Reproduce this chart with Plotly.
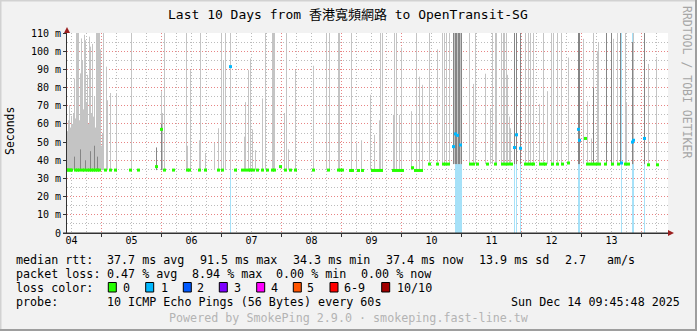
import plotly.graph_objects as go

# ---------------- data ----------------
# time axis: hours since 2025-12-04 00:00 (one RRA step = 0.4 h = 24 min)
day_labels = ["04", "05", "06", "07", "08", "09", "10", "11", "12", "13"]
day_noon_hours = [12, 36, 60, 84, 108, 132, 156, 180, 204, 228]
midnight_hours = [24, 48, 72, 96, 120, 144, 168, 192, 216, 240]
six_hour_marks = [12, 18, 30, 36, 42, 54, 60, 66, 78, 84, 90, 102, 108, 114,
                  126, 132, 138, 150, 156, 162, 174, 180, 186, 198, 204, 210,
                  222, 228, 234, 246]
x_range_hours = [10.2, 250.6]

y_tick_values = [0, 10, 20, 30, 40, 50, 60, 70, 80, 90, 100, 110]
y_tick_labels = ["0", "10 m", "20 m", "30 m", "40 m", "50 m", "60 m", "70 m",
                 "80 m", "90 m", "100 m", "110 m"]
y_minor_values = [5, 15, 25, 35, 45, 55, 65, 75, 85, 95, 105]

# median level (ms) before / after the shift on day 10
median_level_early = 34.6
median_level_late = 37.9
median_shift_hour = 154.0

# smoke spikes: time (h), max rtt (ms), top of darker core (0 = none)
smoke_hours = [10.4, 10.8, 11.2, 11.6, 12.0, 12.4, 12.8, 13.2, 13.6, 14.0, 14.4, 14.8,
               15.2, 15.6, 16.0, 16.4, 16.8, 17.2, 17.6, 18.0, 18.4, 18.8, 19.2, 19.6,
               20.0, 20.4, 20.8, 21.2, 21.6, 22.0, 22.4, 22.8, 23.2, 23.6, 24.0, 24.4,
               24.8, 26.0, 26.4, 27.6,
               30.0, 36.0, 46.0, 48.0, 48.4, 49.2, 58.0, 58.4, 59.6, 63.2, 63.6, 65.6,
               69.2, 70.8, 72.0, 72.8, 73.6, 75.6, 81.2, 81.6, 82.8, 83.6, 84.4, 85.6,
               88.4, 89.6, 92.4, 92.8, 93.2, 97.2, 98.0, 98.8, 101.6, 108.8, 114.0, 115.2,
               118.8, 119.2, 124.0, 126.0, 128.0, 131.6, 133.2, 135.2, 135.6, 136.4, 140.8, 141.2,
               142.0, 143.2, 144.0, 148.0, 150.0, 151.2, 152.4, 155.2, 158.4, 160.4, 161.2, 162.0,
               163.2, 164.8, 165.2, 165.6, 166.0, 166.4, 166.8, 167.2, 167.6, 168.0, 171.2, 172.8,
               173.6, 177.6, 179.6, 180.4, 181.6, 182.0, 184.0, 184.8, 185.2, 186.0, 186.4, 187.2,
               187.6, 189.2, 190.0, 191.6, 193.6, 194.8, 195.6, 196.8, 199.2, 200.8, 202.4, 204.0,
               204.8, 206.4, 208.0, 210.8, 214.8, 215.2, 216.8, 218.4, 220.0, 220.8, 222.4, 222.8,
               226.0, 228.0, 228.8, 230.4, 231.6, 233.6, 234.0, 236.4, 236.8, 241.2, 242.8, 246.0]
smoke_max = [56, 62, 70.4, 58, 64.4, 60, 66, 85, 63, 110, 110, 110,
             62, 87.8, 107, 95, 68, 109, 106, 72, 87, 60, 108, 102.5,
             66, 104, 64, 75, 58, 110, 110, 110, 110, 101, 48, 55,
             110, 91.5, 73, 77,
             77, 110, 47, 78, 66, 110, 110, 48, 89.6, 51, 110, 44,
             49.6, 57.6, 110, 95, 110, 110, 53, 72, 89.6, 96, 57, 45.6,
             74, 110, 110, 110, 110, 66, 110, 46, 89.6, 92, 110, 110,
             110, 110, 110, 49.6, 51, 76, 54, 62, 110, 110, 65, 110,
             110, 65, 102, 67, 110, 86, 81.5, 110, 101, 110, 110, 110,
             110, 110, 110, 110, 110, 110, 110, 110, 110, 110, 110, 82,
             110, 87.6, 68.5, 110, 110, 110, 110, 110, 110, 110, 87, 64,
             57.6, 110, 110, 110, 110, 110, 110, 110, 71, 110, 78, 110,
             110, 110, 110, 96.5, 110, 110, 106.8, 72.4, 52, 110, 100, 104.7,
             110, 110, 106.8, 110, 110, 110, 72, 105, 110, 110, 93, 96]
smoke_core = [0, 0, 0, 0, 0, 0, 0, 42, 0, 0, 0, 0,
              0, 46, 0, 0, 0, 0, 40, 0, 0, 0, 0, 45,
              0, 0, 0, 48, 0, 0, 42, 0, 0, 0, 0, 0,
              0, 0, 0, 0,
              0, 0, 47, 60, 0, 0, 0, 0, 0, 0, 0, 0,
              0, 0, 0, 0, 0, 0, 0, 0, 0, 0, 0, 0,
              0, 0, 0, 0, 0, 0, 0, 0, 0, 0, 0, 0,
              0, 0, 0, 0, 0, 0, 0, 0, 0, 0, 0, 0,
              0, 0, 0, 0, 0, 0, 0, 0, 0, 0, 0, 0,
              0, 110, 0, 110, 110, 0, 110, 110, 0, 110, 0, 0,
              0, 0, 0, 0, 0, 0, 0, 0, 0, 0, 0, 0,
              0, 110, 110, 110, 0, 0, 0, 0, 0, 0, 0, 0,
              0, 0, 0, 0, 110, 110, 0, 0, 0, 80, 0, 0,
              110, 110, 0, 0, 110, 0, 0, 105, 0, 110, 0, 0]

# median rtt marks: time (h), value (ms), loss colour index (0 = none, 1 = 1/10 lost)
median_hours = [10.4, 10.8, 11.6, 12.0, 13.6, 14.4, 15.2, 16.4, 17.2, 18.4, 19.2, 20.0,
                20.8, 21.6, 22.4, 23.2, 25.6, 27.6, 29.6, 35.6, 38.8, 46.0, 48.0, 49.2,
                52.8, 58.4, 59.2, 63.2, 65.6, 70.8, 72.4, 75.6, 77.6, 80.4, 81.6, 82.8,
                83.6, 84.8, 86.4, 88.4, 90.4, 92.4, 93.2, 95.6, 97.6, 99.6, 101.6, 108.8,
                114.8, 118.8, 119.6, 120.4, 123.6, 124.4, 126.8, 128.4, 132.4, 133.6, 134.8, 136.0,
                140.8, 142.0, 143.2, 144.4, 148.4, 149.6, 150.8, 152.0, 155.2, 158.4, 160.8, 161.6,
                162.8, 164.8, 165.6, 166.4, 167.6, 171.6, 172.8, 174.4, 178.4, 181.6, 184.4, 185.6,
                186.8, 188.0, 189.2, 190.0, 191.6, 193.6, 194.8, 196.0, 196.8, 199.6, 200.8, 201.6,
                204.4, 206.4, 208.4, 210.8, 214.8, 215.2, 217.6, 218.4, 219.6, 220.8, 222.0, 223.2,
                225.6, 228.4, 230.8, 232.0, 233.6, 234.8, 236.4, 236.8, 241.2, 242.8, 246.4]
median_values = [34.6, 34.6, 34.6, 34.6, 34.6, 34.6, 34.6, 34.6, 34.6, 34.6, 34.6, 34.6,
                 34.6, 34.6, 34.6, 34.6, 34.6, 34.6, 34.6, 34.6, 34.6, 36.5, 57.0, 34.6,
                 34.6, 34.6, 34.6, 34.6, 34.6, 34.6, 34.6, 91.5, 34.6, 34.6, 34.6, 34.6,
                 34.6, 34.6, 34.6, 34.6, 34.6, 34.6, 34.6, 36.5, 34.6, 34.6, 34.6, 34.6,
                 34.6, 34.6, 34.6, 34.6, 34.4, 34.4, 34.4, 34.4, 34.4, 34.4, 34.4, 34.4,
                 34.4, 34.4, 34.4, 34.4, 35.9, 34.4, 34.4, 34.4, 37.9, 37.9, 37.9, 37.9,
                 37.9, 47.5, 54.5, 53.7, 48.4, 37.9, 37.9, 37.9, 37.9, 37.9, 37.9, 37.9,
                 37.9, 37.9, 47.0, 54.0, 46.6, 37.9, 37.9, 37.9, 37.9, 37.9, 37.9, 37.9,
                 37.9, 37.9, 37.9, 38.5, 57.0, 51.0, 52.0, 37.9, 37.9, 37.9, 37.9, 37.9,
                 37.9, 37.9, 37.9, 38.5, 37.9, 37.9, 50.0, 51.0, 52.0, 37.5, 37.5]
median_loss = [0] * 31 + [1] + [0] * 41 + [1, 1, 1, 1] + [0] * 9 + [1, 1, 1] + [0] * 11 + \
              [1, 1] + [0] * 9 + [1] + [0, 0] + [1, 1, 1] + [0, 0]

# time steps with packet loss (loss background)
loss_hours = [75.6, 165.6, 166.0, 166.4, 166.8, 167.2, 167.6, 168.0, 189.2, 190.0,
              191.6, 214.8, 215.2, 232.0, 236.4, 236.8, 241.2]

loss_color_labels = ["0", "1", "2", "3", "4", "5", "6-9", "10/10"]
loss_colors = ["#26ff00", "#00b8ff", "#0059ff", "#7e00ff", "#ff00ff",
               "#ff5500", "#ff0000", "#a10000"]

title_text = "Last 10 Days from 香港寬頻網路 to OpenTransit-SG"
stats_rtt = ["median rtt:", "37.7 ms avg", "91.5 ms max", "34.3 ms min",
             "37.4 ms now", "13.9 ms sd", "2.7", "am/s"]
stats_loss = ["packet loss:", "0.47 % avg", "8.94 % max", "0.00 % min", "0.00 % now"]
probe_text = ["probe:", "10 ICMP Echo Pings (56 Bytes) every 60s"]
date_text = "Sun Dec 14 09:45:48 2025"
footer_text = "Powered by SmokePing 2.9.0 · smokeping.fast-line.tw"
watermark = "RRDTOOL / TOBI OETIKER"

# ---------------- layout geometry (pixels) ----------------
FIG_W, FIG_H = 697, 331
L, R, T, B = 67, 668, 33, 233
MONO = "DejaVu Sans Mono, Noto Sans CJK TC, monospace"


def ax(xp):
    return (xp - L) / (R - L)


def ay(yp):
    return (B - yp) / (B - T)


def vsegments(xs, lows, highs):
    px, py = [], []
    for x, lo, hi in zip(xs, lows, highs):
        px += [x, x, None]
        py += [lo, hi, None]
    return px, py


fig = go.Figure()

# loss background (full-height light bars)
lx, ly = vsegments(loss_hours, [0] * len(loss_hours), [110] * len(loss_hours))
fig.add_trace(go.Scatter(x=lx, y=ly, mode="lines", line=dict(color="#a6e1f8", width=1),
                         hoverinfo="skip", showlegend=False))

base_vals = [median_level_early if h < median_shift_hour else median_level_late
             for h in smoke_hours]
# light smoke
sx, sy = vsegments(smoke_hours, base_vals, smoke_max)
fig.add_trace(go.Scatter(x=sx, y=sy, mode="lines", line=dict(color="#c4c4c4", width=1),
                         hoverinfo="skip", showlegend=False))
# darker smoke core
core_h = [h for h, c in zip(smoke_hours, smoke_core) if c > 0]
core_b = [b for b, c in zip(base_vals, smoke_core) if c > 0]
core_t = [c for c in smoke_core if c > 0]
cx, cy = vsegments(core_h, core_b, core_t)
fig.add_trace(go.Scatter(x=cx, y=cy, mode="lines", line=dict(color="#858585", width=1),
                         hoverinfo="skip", showlegend=False))

# medians
fig.add_trace(go.Scatter(x=median_hours, y=median_values, mode="markers",
                         marker=dict(symbol="square", size=3,
                                     color=[loss_colors[i] for i in median_loss],
                                     line=dict(width=0)),
                         hoverinfo="skip", showlegend=False, xaxis="x2"))

grid_red = "rgba(222,80,80,0.7)"
grid_grey = "rgba(143,143,143,0.6)"

fig.update_layout(
    width=FIG_W, height=FIG_H, autosize=False,
    margin=dict(l=L, r=FIG_W - R, t=T, b=FIG_H - B, pad=0),
    paper_bgcolor="#f2f2f2", plot_bgcolor="#ffffff",
    showlegend=False,
    font=dict(family=MONO, size=10, color="#000000"),
    xaxis=dict(range=x_range_hours, tickmode="array", tickvals=midnight_hours,
               ticktext=[""] * len(midnight_hours), showgrid=True,
               gridcolor=grid_red, griddash="1px,2px", gridwidth=1,
               ticks="outside", ticklen=3, tickcolor="#333333",
               showline=True, linecolor="#333333", linewidth=1,
               zeroline=False, layer="above traces", fixedrange=True,
               minor=dict(tickmode="array", tickvals=six_hour_marks, showgrid=True,
                          gridcolor=grid_grey, griddash="1px,2px", gridwidth=1,
                          ticks="")),
    xaxis2=dict(range=x_range_hours, overlaying="x", side="bottom", anchor="y",
                tickmode="array", tickvals=day_noon_hours, ticktext=day_labels,
                showgrid=False, ticks="", zeroline=False, showline=False,
                tickfont=dict(family=MONO, size=10, color="#000000"),
                fixedrange=True),
    yaxis=dict(range=[0, 110], tickmode="array", tickvals=y_tick_values,
               ticktext=y_tick_labels, showgrid=True, gridcolor=grid_red,
               griddash="1px,2px", gridwidth=1, ticks="outside", ticklen=3,
               tickcolor="#333333", showline=True, linecolor="#333333", linewidth=1,
               zeroline=False, layer="above traces", fixedrange=True,
               tickfont=dict(family=MONO, size=10, color="#000000"),
               minor=dict(tickmode="array", tickvals=y_minor_values, showgrid=True,
                          gridcolor=grid_grey, griddash="1px,2px", gridwidth=1,
                          ticks="")),
)

ann = []


def text(xp, yp, s, size=11.7, color="#000000", anchor="left", angle=0):
    ann.append(dict(x=ax(xp), y=ay(yp), xref="paper", yref="paper", text=s,
                    showarrow=False, xanchor=anchor, yanchor="middle",
                    textangle=angle, borderpad=0,
                    font=dict(family=MONO, size=size, color=color)))


text(348, 14, title_text, size=13, anchor="center")
text(10, 131, "Seconds", size=11.5, anchor="center", angle=-90)
text(687, 82, watermark, size=11.5, color="#a6a6a6", anchor="center", angle=90)

rtt_x = [15, 106, 199, 292, 385, 478, 564, 606]
for xp, s in zip(rtt_x, stats_rtt):
    text(xp, 259.5, s)
loss_x = [15, 106, 190.5, 275, 359.5]
for xp, s in zip(loss_x, stats_loss):
    text(xp, 273.5, s)
text(15, 287.5, "loss color:")
box_x = [108.3, 145.7, 183.3, 219.3, 256.7, 293.3, 330.0, 381.7]
lab_x = [122.3, 159.7, 196.0, 233.0, 270.0, 306.0, 343.0, 395.7]
shapes = []
for bx, lbx, lab, col in zip(box_x, lab_x, loss_color_labels, loss_colors):
    shapes.append(dict(type="rect", xref="paper", yref="paper",
                       x0=ax(bx), x1=ax(bx + 8), y0=ay(292), y1=ay(282.5),
                       fillcolor=col, line=dict(color="#000000", width=1)))
    text(lbx, 287.5, lab)
text(15, 301.7, probe_text[0])
text(106, 301.7, probe_text[1])
text(681, 301.7, date_text, anchor="right")
text(348.5, 318.3, footer_text, color="#b4b4b4", anchor="center")

# axis arrows
shapes.append(dict(type="path", xref="paper", yref="paper",
                   path=f"M {ax(668)} {ay(230)} L {ax(674)} {ay(233)} L {ax(668)} {ay(236)} Z",
                   fillcolor="#9b2020", line=dict(width=0)))
shapes.append(dict(type="path", xref="paper", yref="paper",
                   path=f"M {ax(64)} {ay(33)} L {ax(67)} {ay(27)} L {ax(70)} {ay(33)} Z",
                   fillcolor="#9b2020", line=dict(width=0)))
# axis extension to the left of the origin
shapes.append(dict(type="line", xref="paper", yref="paper", x0=ax(63), x1=ax(668),
                   y0=ay(233), y1=ay(233), line=dict(color="#333333", width=1)))

# outer frame (light top/left, dark bottom/right)
shapes.append(dict(type="rect", xref="paper", yref="paper", x0=ax(0), x1=ax(697),
                   y0=ay(0), y1=ay(1.5), fillcolor="#d2d2d2", line=dict(width=0)))
shapes.append(dict(type="rect", xref="paper", yref="paper", x0=ax(0), x1=ax(1.5),
                   y0=ay(0), y1=ay(331), fillcolor="#d2d2d2", line=dict(width=0)))
shapes.append(dict(type="rect", xref="paper", yref="paper", x0=ax(695), x1=ax(697),
                   y0=ay(0), y1=ay(331), fillcolor="#9e9e9e", line=dict(width=0)))
shapes.append(dict(type="rect", xref="paper", yref="paper", x0=ax(0), x1=ax(697),
                   y0=ay(329), y1=ay(331), fillcolor="#9e9e9e", line=dict(width=0)))

fig.update_layout(annotations=ann, shapes=shapes)
fig.write_html("out.html")
